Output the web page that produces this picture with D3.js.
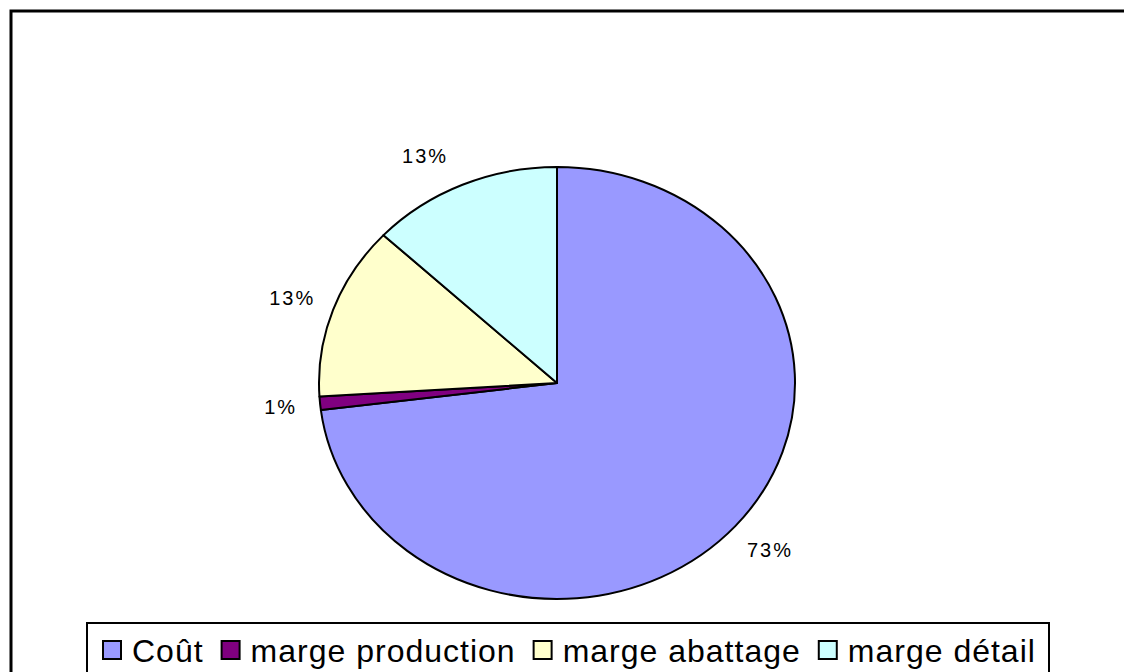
<!DOCTYPE html>
<html>
<head>
<meta charset="utf-8">
<script src="https://cdn.jsdelivr.net/npm/d3@7"></script>
<style>
  html, body { margin: 0; padding: 0; background: #fff; }
  svg { display: block; }
  text { font-family: "Liberation Sans", Arial, sans-serif; fill: #000; }
</style>
</head>
<body>
<svg id="chart" width="1124" height="672"></svg>
<script>
// Répartition du prix : coût et marges
const categories = ["Coût", "marge production", "marge abattage", "marge détail"];
const shares = [73, 1, 13, 13];
const percentLabels = ["73%", "1%", "13%", "13%"];
const sliceColors = ["#9999FF", "#800080", "#FFFFCC", "#CCFFFF"];

const W = 1124, H = 672;
const svg = d3.select("#chart");

// outer chart frame
svg.append("rect")
  .attr("x", 11).attr("y", 11)
  .attr("width", W + 20).attr("height", H + 20)
  .attr("fill", "#fff").attr("stroke", "#000").attr("stroke-width", 3);

// pie: drawn as a circle of radius ry, stretched horizontally to rx
const cx = 557, cy = 383, rx = 238, ry = 216;
const pie = d3.pie().sort(null).value(d => d)(shares);
const arc = d3.arc().innerRadius(0).outerRadius(ry);

const pieG = svg.append("g")
  .attr("transform", `translate(${cx},${cy}) scale(${rx / ry},1)`);

pieG.selectAll("path.slice")
  .data(pie)
  .join("path")
  .attr("class", "slice")
  .attr("d", arc)
  .attr("fill", (d, i) => sliceColors[i])
  .attr("stroke", "#000")
  .attr("stroke-width", 2)
  .attr("stroke-linejoin", "round")
  .attr("vector-effect", "non-scaling-stroke");

// percentage labels placed just outside each slice
const labelFactor = 1.12;
const labelNudge = [[13, 7], [-11, 1], [-14, -3], [-26, -5]];
svg.append("g").selectAll("text")
  .data(pie)
  .join("text")
  .attr("x", (d, i) => {
    const a = (d.startAngle + d.endAngle) / 2;
    return cx + Math.sin(a) * rx * labelFactor + labelNudge[i][0];
  })
  .attr("y", (d, i) => {
    const a = (d.startAngle + d.endAngle) / 2;
    return cy - Math.cos(a) * ry * labelFactor + labelNudge[i][1];
  })
  .attr("text-anchor", "middle")
  .attr("dominant-baseline", "central")
  .style("font-size", "20px")
  .style("letter-spacing", "2px")
  .text((d, i) => percentLabels[i]);

// legend
const legX = 87, legY = 623, legW = 1049 - 87;
svg.append("rect")
  .attr("x", legX).attr("y", legY)
  .attr("width", legW).attr("height", 80)
  .attr("fill", "#fff").attr("stroke", "#000").attr("stroke-width", 2);

const legG = svg.append("g");
let xPos = 103;
const sw = 18, swY = 641, baseY = 662;
categories.forEach((c, i) => {
  legG.append("rect")
    .attr("x", xPos).attr("y", swY)
    .attr("width", sw).attr("height", sw)
    .attr("fill", sliceColors[i])
    .attr("stroke", "#000").attr("stroke-width", 2);
  const t = legG.append("text")
    .attr("x", xPos + sw + 11).attr("y", baseY)
    .style("font-size", "32px")
    .style("letter-spacing", "1px")
    .text(c);
  xPos = xPos + sw + 11 + t.node().getComputedTextLength() + 18;
});
</script>
</body>
</html>
